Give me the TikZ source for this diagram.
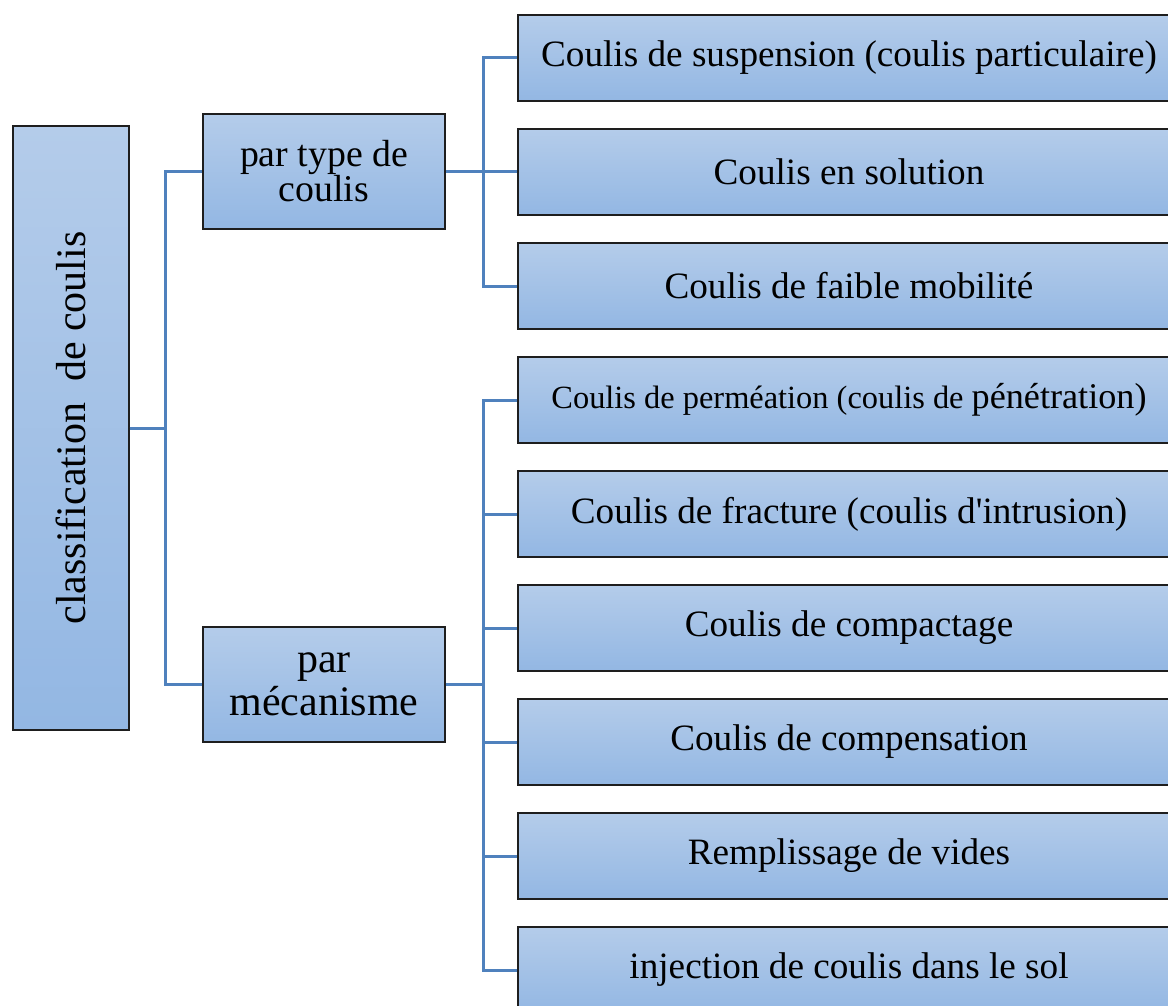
\documentclass[tikz,border=0pt]{standalone}
\usepackage{fontspec}
\setmainfont{Liberation Serif}
\usepackage{xcolor}
\definecolor{boxtop}{RGB}{180,204,234}
\definecolor{boxbot}{RGB}{147,183,227}
\definecolor{boxline}{RGB}{30,30,30}
\definecolor{wire}{RGB}{79,129,189}
\begin{document}
\begin{tikzpicture}[x=0.5pt,y=-0.5pt,
    box/.style={draw=boxline,line width=0.6pt,top color=boxtop,bottom color=boxbot,
      align=center,inner sep=0pt},
    leaf/.style={box,minimum width=331pt,minimum height=43pt,font=\fontsize{18.6}{20}\selectfont},
    wireline/.style={wire,line width=1.5pt}]
    \useasboundingbox (0,0) rectangle (1168,1006);
    % root and second level
    \node[box,minimum width=58pt,minimum height=302pt] (root) at (71,428) {};
    \node[rotate=90,font=\fontsize{21}{22}\selectfont] (roottext) at (root.center) {classification\ \ de coulis};
    \node[box,minimum width=121pt,minimum height=57.5pt,font=\fontsize{18.9}{17.5}\selectfont] (type) at (324,171.5) {par type de\\coulis};
    \node[box,minimum width=121pt,minimum height=57.5pt,font=\fontsize{21}{21.5}\selectfont] (meca) at (324,684.5) {par\\mécanisme};
    % leaves
    \node[leaf] (susp) at (849,58) {Coulis de suspension (coulis particulaire)};
    \node[leaf] (solu) at (849,172) {Coulis en solution};
    \node[leaf] (faib) at (849,286) {Coulis de faible mobilité};
    \node[leaf] (perm) at (849,400) {{\fontsize{16.2}{18}\selectfont Coulis de perméation (coulis de }{\fontsize{18.1}{20}\selectfont pénétration)}};
    \node[leaf] (frac) at (849,514) {Coulis de fracture (coulis d\textquotesingle intrusion)};
    \node[leaf] (comp) at (849,628) {Coulis de compactage};
    \node[leaf] (comn) at (849,742) {Coulis de compensation};
    \node[leaf] (vide) at (849,856) {Remplissage de vides};
    \node[leaf] (inje) at (849,970) {injection de coulis dans le sol};
    % connectors
    \coordinate (rootbus) at (165,428);
    \coordinate (typebus) at (483,171.5);
    \coordinate (mecabus) at (483,684.5);
    \draw[wireline] (root.east) -- (rootbus) |- (type.west);
    \draw[wireline] (rootbus) |- (meca.west);
    \draw[wireline] (type.east) -- (typebus);
    \draw[wireline] (typebus) |- (susp.west);
    \draw[wireline] (typebus) |- (solu.west);
    \draw[wireline] (typebus) |- (faib.west);
    \draw[wireline] (meca.east) -- (mecabus);
    \draw[wireline] (mecabus) |- (perm.west);
    \draw[wireline] (mecabus) |- (frac.west);
    \draw[wireline] (mecabus) |- (comp.west);
    \draw[wireline] (mecabus) |- (comn.west);
    \draw[wireline] (mecabus) |- (vide.west);
    \draw[wireline] (mecabus) |- (inje.west);
\end{tikzpicture}
\end{document}
